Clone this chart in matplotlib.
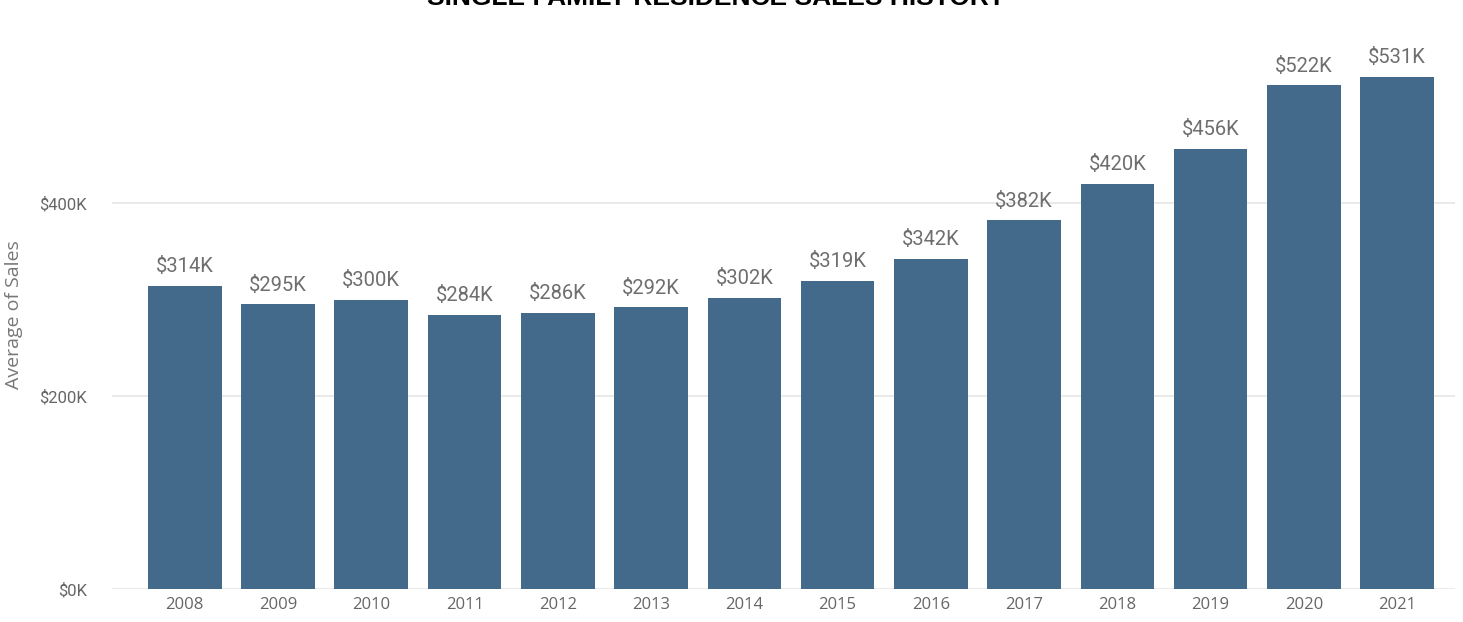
import matplotlib
matplotlib.use("Agg")
import matplotlib.pyplot as plt
from matplotlib import font_manager
from matplotlib.ticker import FuncFormatter

years = ["2008", "2009", "2010", "2011", "2012", "2013", "2014",
         "2015", "2016", "2017", "2018", "2019", "2020", "2021"]
avg_sales_k = [314, 295, 300, 284, 286, 292, 302,
               319, 342, 382, 420, 456, 522, 531]
y_ticks_k = [0, 200, 400]

installed = {f.name for f in font_manager.fontManager.ttflist}
label_font = "Liberation Sans Narrow" if "Liberation Sans Narrow" in installed else "Roboto"
tick_font = "Open Sans"

fig = plt.figure(figsize=(14.63, 6.22), dpi=100)
ax = fig.add_axes([0.0766, 0.0531, 0.9179, 0.8826])

bar_color = "#436a8a"
x = list(range(len(years)))
bars = ax.bar(x, avg_sales_k, width=0.79, color=bar_color, zorder=3)

for xi, v in zip(x, avg_sales_k):
    ax.annotate(f"${v}K", (xi, v), xytext=(0, 7), textcoords="offset points",
                ha="center", va="bottom", fontsize=14.5, color="#6e6e6e",
                family=label_font)

ax.set_xlim(-0.78, 13.62)
ax.set_ylim(0, 569)
ax.set_xticks(x)
ax.set_xticklabels(years, fontsize=12, color="#666666", family=tick_font)
ax.set_yticks(y_ticks_k)
ax.yaxis.set_major_formatter(FuncFormatter(lambda v, p: f"${int(v)}K"))
for lbl in ax.get_yticklabels():
    lbl.set_fontsize(12)
    lbl.set_color("#666666")
    lbl.set_family(label_font)

ax.tick_params(axis="both", length=0)
ax.tick_params(axis="y", pad=18)
ax.tick_params(axis="x", pad=6)
ax.grid(axis="y", color="#e6e6e6", linewidth=1.2, zorder=0)
for s in ax.spines.values():
    s.set_visible(False)

ax.set_ylabel("Average of Sales", fontsize=14, color="#777777",
              family=tick_font, labelpad=12)

fig.text(0.4895, 1 - 5 / 622, "SINGLE FAMILY RESIDENCE SALES HISTORY",
         ha="center", va="baseline", fontsize=19, fontweight="bold",
         color="#000000", family="Liberation Sans")

fig.savefig("out.png", dpi=100)
